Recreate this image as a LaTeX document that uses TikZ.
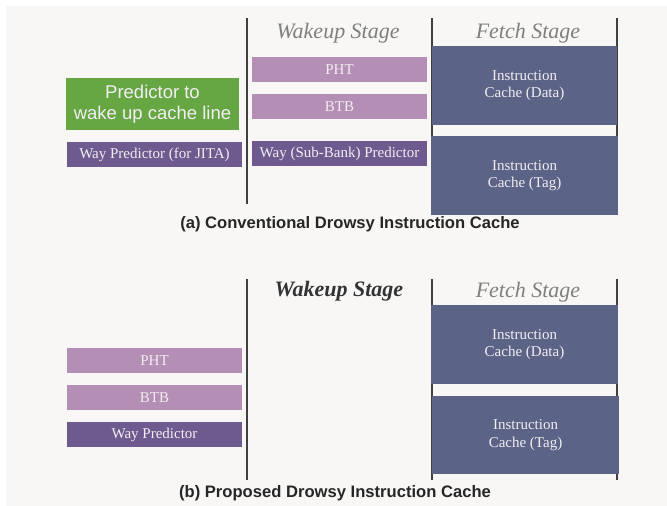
\documentclass[tikz,border=0pt]{standalone}
\usepackage{fontspec}
\setmainfont{Liberation Serif}
\newfontfamily\arialfont{Liberation Sans}
\definecolor{bgpaper}{HTML}{F8F7F5}
\definecolor{lightpurple}{HTML}{B48EB4}
\definecolor{darkpurple}{HTML}{6E5A8E}
\definecolor{cachenavy}{HTML}{5B6387}
\definecolor{predgreen}{HTML}{66A744}
\definecolor{stagegray}{HTML}{7F7F7F}
\definecolor{boxtext}{HTML}{F2EEF2}

\begin{document}
\begin{tikzpicture}[x=1pt, y=-1pt,
  box/.style={inner sep=0pt, align=center, text=boxtext, font=\fontsize{15}{17.5}\selectfont},
  smallbox/.style={box, minimum width=175pt, minimum height=25pt},
  cachebox/.style={box, fill=cachenavy, minimum height=79pt},
  stagelabel/.style={font=\itshape\fontsize{22}{24}\selectfont, text=stagegray},
  divider/.style={draw=black!75, line width=2pt},
  caption/.style={font=\arialfont\bfseries\fontsize{16.6}{18}\selectfont, text=black!85}]
\useasboundingbox (0,0) rectangle (667,506);
\fill[bgpaper] (6,6) rectangle (667,506);

% (a) conventional
\draw[divider] (246.7,18) -- (246.7,204);
\draw[divider] (431.7,18) -- (431.7,136);
\draw[divider] (616.7,18) -- (616.7,136);
\node[stagelabel] (wakeupa) at (338,33) {Wakeup Stage};
\node[stagelabel] (fetcha) at (528,33) {Fetch Stage};

\node[smallbox, fill=lightpurple] (phta) at (339.5,69.5) {PHT};
\node[smallbox, fill=lightpurple] (btba) at (339.5,106.5) {BTB};
\node[smallbox, fill=darkpurple] (waysub) at (339.5,153.5) {Way (Sub-Bank) Predictor};

\node[box, fill=predgreen, minimum width=173pt, minimum height=52pt, font=\arialfont\fontsize{18.5}{21}\selectfont] (wakepred) at (152.5,104) {Predictor to\\ wake up cache line};
\node[smallbox, fill=darkpurple] (wayjita) at (154.5,154.5) {Way Predictor (for JITA)};

\node[cachebox, minimum width=185pt] (dataa) at (524.5,85.5) {Instruction\\ Cache (Data)};
\node[cachebox, minimum width=187pt] (taga) at (524.5,175.5) {Instruction\\ Cache (Tag)};

\node[caption] (capa) at (350,224) {(a) Conventional Drowsy Instruction Cache};

% (b) proposed
\draw[divider] (246.7,279) -- (246.7,480);
\draw[divider] (431.7,279) -- (431.7,480);
\draw[divider] (616.7,279) -- (616.7,480);
\node[stagelabel, font=\bfseries\itshape\fontsize{22}{24}\selectfont, text=black!80] (wakeupb) at (339,291) {Wakeup Stage};
\node[stagelabel] (fetchb) at (528,292) {Fetch Stage};

\node[smallbox, fill=lightpurple] (phtb) at (154.5,360.5) {PHT};
\node[smallbox, fill=lightpurple] (btbb) at (154.5,397.5) {BTB};
\node[smallbox, fill=darkpurple] (waypred) at (154.5,434.5) {Way Predictor};

\node[cachebox, minimum width=187pt] (datab) at (524.5,344.5) {Instruction\\ Cache (Data)};
\node[cachebox, minimum width=187pt, minimum height=78pt] (tagb) at (525.5,435) {Instruction\\ Cache (Tag)};

\node[caption] (capb) at (335,493) {(b) Proposed Drowsy Instruction Cache};
\end{tikzpicture}
\end{document}
